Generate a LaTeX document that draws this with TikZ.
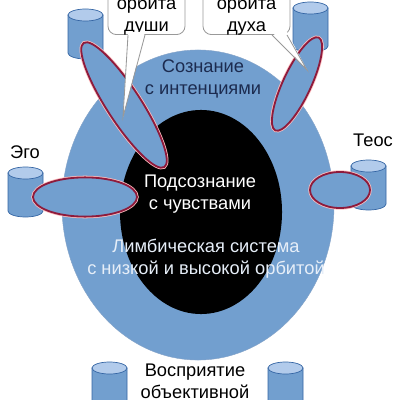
\documentclass[tikz,border=0pt]{standalone}
\usepackage{fontspec}
\setmainfont{Liberation Sans}
\usetikzlibrary{positioning, calc, shapes.geometric}

\definecolor{skyblue}{HTML}{729FCF}
\definecolor{skyline}{HTML}{3465A4}
\definecolor{skytop}{HTML}{B2CBEB}
\definecolor{orbitred}{HTML}{8E1B3C}
\definecolor{navytext}{HTML}{1C2B4F}
\definecolor{limbtext}{HTML}{E6EEF8}

\begin{document}
\begin{tikzpicture}[
        x=0.025cm, y=-0.025cm,
        every node/.style={font=\fontsize{13}{15.5}\selectfont, align=center},
        shell/.style={ellipse, fill=skyblue, draw=skyline!60, line width=0.3pt, inner sep=0pt},
        core/.style={ellipse, fill=black, inner sep=0pt},
        orbit/.style={ellipse, fill=skyblue, draw=orbitred, line width=1.3pt, inner sep=0pt,
            preaction={draw=red!25, line width=2.4pt}},
        bubble/.style={draw=gray!80, fill=white, rounded corners=6pt, line width=0.6pt},
        tail/.style={draw=gray!80, line width=0.6pt},
        barrel/.pic={
            \path[fill=skyblue, draw=skyline, line width=0.5pt]
                (-17.5,0) -- (-17.5,38) arc (180:0:17.5 and 6) -- (17.5,0) -- cycle;
            \path[fill=skytop, draw=skyline, line width=0.5pt] (0,0) ellipse (17.5 and 6);
        }
    ]

    \clip (0,0) rectangle (400,400);

    % rings
    \node[shell, minimum width=6.8cm, minimum height=7.75cm] (shell) at (198,205) {};
    \node[core, minimum width=4.05cm, minimum height=5.1cm] (core) at (201,212) {};

    \node[text=navytext] (conscious) at (203,79) {Сознание\\с интенциями};
    \node[text=white] (subconscious) at (200,194) {Подсознание\\с чувствами};
    \node[text=limbtext] (limbic) at (206,259) {Лимбическая система\\с низкой и высокой орбитой};

    % drums
    \pic (soul drum) at (85.5,15) {barrel};
    \pic (spirit drum) at (310.5,8) {barrel};
    \pic (ego drum) at (25.5,173) {barrel};
    \pic (teos drum) at (368.5,166) {barrel};
    \pic (low drum) at (109.5,368) {barrel};
    \pic (high drum) at (285.5,368) {barrel};

    % orbits
    \node[orbit, minimum width=3.7cm, minimum height=0.85cm, rotate=-57] (soul orbit) at (124,105) {};
    \node[orbit, minimum width=2.56cm, minimum height=0.7cm, rotate=65] (spirit orbit) at (297,84) {};
    \node[orbit, minimum width=2.6cm, minimum height=0.98cm] (ego orbit) at (85,197) {};
    \node[orbit, minimum width=1.5cm, minimum height=0.9cm] (teos orbit) at (340,190) {};

    \node (ego) at (25,152) {Эго};
    \node (teos) at (373,140) {Теос};
    \node (perception) at (195,381) {Восприятие\\объективной};

    % callouts
    \node[bubble, minimum width=1.925cm, minimum height=1.5cm, anchor=south] (soul box) at (146.5,35) {};
    \node (soul) at (146.5,16) {орбита\\души};
    \coordinate (soul tip) at (123,117);
    \fill[white] ($(soul box.south)+(-18.5,-3)$) -- (soul tip) -- ($(soul box.south)+(-1.5,-3)$) -- cycle;
    \draw[tail] ($(soul box.south)+(-18.5,0)$) -- (soul tip) -- ($(soul box.south)+(-1.5,0)$);

    \node[bubble, minimum width=2.175cm, minimum height=1.5cm, anchor=south] (spirit box) at (246.5,35) {};
    \node (spirit) at (246.5,16) {орбита\\духа};
    \coordinate (spirit tip) at (307,70);
    \fill[white] ($(spirit box.south)+(25.5,-3)$) -- (spirit tip) -- ($(spirit box.south)+(40.5,-3)$) -- cycle;
    \draw[tail] ($(spirit box.south)+(25.5,0)$) -- (spirit tip) -- ($(spirit box.south)+(40.5,0)$);

\end{tikzpicture}
\end{document}
